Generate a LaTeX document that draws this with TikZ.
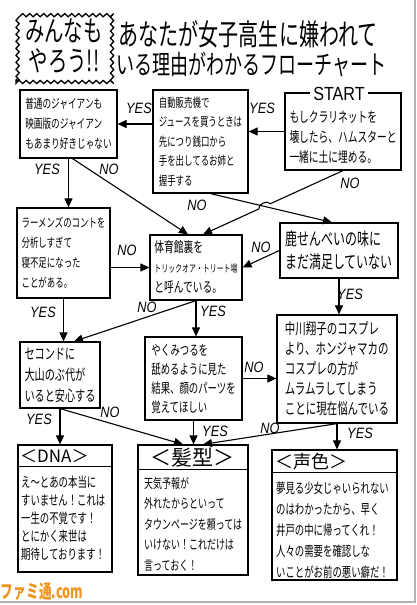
\documentclass[tikz,border=0pt]{standalone}
\usepackage{fontspec}
\setmainfont{Noto Sans CJK JP}
\newfontfamily\jp[FakeStretch=0.68]{Noto Sans CJK JP}
\newfontfamily\lab[FakeStretch=0.85]{Liberation Sans}
\usetikzlibrary{arrows.meta,calc,decorations.pathmorphing}
\definecolor{famiorange}{RGB}{240,150,30}
\tikzset{
  box/.style={draw, line width=1.2pt, inner sep=2pt, align=left},
  conn/.style={line width=1.1pt, -{Triangle[length=9pt,width=8pt]}},
  lbl/.style={font=\lab\itshape\fontsize{15}{15}\selectfont, inner sep=0pt},
  txt/.style={align=left, inner sep=0pt},
}
\begin{document}
\begin{tikzpicture}[x=1pt,y=-1pt]
\useasboundingbox (0,0) rectangle (417,605);
\fill[white] (0,0) rectangle (417,605);
\draw[gray!60, line width=1.5pt] (0,602) -- (415,602) -- (415,0);

% title
\node[draw, line width=1.3pt, decorate, decoration={snake,amplitude=1.6pt,segment length=7pt},
      minimum width=94pt, minimum height=72pt] (T0) at (64,46) {};
\node[align=center, font=\jp\fontsize{28.5}{30}\selectfont] (T1) at (64,46) {みんなも\\やろう!!};
\node[anchor=west, font=\jp\fontsize{29.5}{30}\selectfont] (T2) at (115,34) {あなたが女子高生に嫌われて};
\node[anchor=west, font=\jp\fontsize{26.5}{30}\selectfont] (T3) at (113,64) {いる理由がわかるフローチャート};

% question boxes
\node[box, minimum width=97pt, minimum height=68pt, font=\jp\fontsize{12.7}{20}\selectfont] (A) at (68.5,124)
  {普通のジャイアンも\\映画版のジャイアン\\もあまり好きじゃない};
\node[box, minimum width=95pt, minimum height=103pt, font=\jp\fontsize{12.4}{19.5}\selectfont] (B) at (200.5,141.5)
  {自動販売機で\\ジュースを買うときは\\先につり銭口から\\手を出してるお姉と\\握手する};
\node[box, minimum width=116pt, minimum height=77pt] (START) at (343,131.5) {};
\node[txt, font=\jp\fontsize{14.3}{20}\selectfont] (Stxt) at (343,137)
  {もしクラリネットを\\壊したら、ハムスターと\\一緒に土に埋める。};
\node[fill=white, inner xsep=3pt, inner ysep=0pt, font=\lab\fontsize{19}{19}\selectfont] (Slbl) at (339,94) {START};
\node[box, minimum width=93pt, minimum height=90pt, font=\jp\fontsize{12.4}{20}\selectfont] (C) at (63.5,253)
  {ラーメンズのコントを\\分析しすぎて\\寝不足になった\\ことがある。};
\node[box, minimum width=92pt, minimum height=65pt, font=\jp\fontsize{14.3}{20}\selectfont] (D) at (196,267.5)
  {体育館裏を\\{\fontsize{10.2}{20}\selectfont トリックオア・トリート場}\\と呼んでいる。};
\node[box, minimum width=118pt, minimum height=55pt, font=\jp\fontsize{17.6}{23}\selectfont] (E) at (339,250.5)
  {鹿せんべいの味に\\まだ満足していない};
\node[box, minimum width=80pt, minimum height=66pt, font=\jp\fontsize{14.9}{21}\selectfont] (F) at (60,375)
  {セコンドに\\大山のぶ代が\\いると安心する};
\node[box, minimum width=97pt, minimum height=83pt, font=\jp\fontsize{13.8}{19}\selectfont] (G) at (193.5,378.5)
  {やくみつるを\\舐めるように見た\\結果、顔のパーツを\\覚えてほしい};
\node[box, minimum width=120pt, minimum height=108pt, font=\jp\fontsize{15.4}{20}\selectfont] (H) at (337,369)
  {中川翔子のコスプレ\\より、ホンジャマカの\\コスプレの方が\\ムラムラしてしまう\\ことに現在悩んでいる};

% result boxes
\node[box, minimum width=94pt, minimum height=127pt] (N) at (65,508.5) {};
\node[anchor=west, inner sep=0pt, font=\fontsize{17}{17}\selectfont] (Nh) at (20,456) {＜DNA＞};
\draw[line width=1pt] ([yshift=-22pt]N.north west) -- ([yshift=-22pt]N.north east);
\node[txt, anchor=west, font=\jp\fontsize{13.8}{18}\selectfont] (Nb) at (21,518)
  {え～とあの本当に\\すいません！これは\\一生の不覚です！\\とにかく来世は\\期待しております！};

\node[box, minimum width=110pt, minimum height=130pt] (K) at (193,510) {};
\node[inner sep=0pt, font=\fontsize{21}{21}\selectfont] (Kh) at (192,458) {＜髪型＞};
\draw[line width=1pt] ([yshift=-25pt]K.north west) -- ([yshift=-25pt]K.north east);
\node[txt, anchor=west, font=\jp\fontsize{13.2}{20.5}\selectfont] (Kb) at (144,524)
  {天気予報が\\外れたからといって\\タウンページを頼っては\\いけない！これだけは\\言っておく！};

\node[box, minimum width=125pt, minimum height=130pt] (V) at (334.5,515) {};
\node[inner sep=0pt, font=\fontsize{18}{18}\selectfont] (Vh) at (311,462) {＜声色＞};
\draw[line width=1pt] ([yshift=-23pt]V.north west) -- ([yshift=-23pt]V.north east);
\node[txt, anchor=west, font=\jp\fontsize{13.8}{21}\selectfont] (Vb) at (276,530)
  {夢見る少女じゃいられない\\のはわかったから、早く\\井戸の中に帰ってくれ！\\人々の需要を確認しな\\いことがお前の悪い癖だ！};

% connectors
\coordinate (Dn1) at ([xshift=-8pt]D.north);
\coordinate (Dn2) at ([xshift=7pt]D.north);
\draw[conn] (START.west) -- (START.west -| B.east);
\draw[conn] (A.east -| B.west) -- (A.east);
\draw[conn] (A.south) -- (A.south |- C.north);
\draw[conn] ([xshift=4pt]A.south) -- (Dn1);
\draw[conn] ([xshift=10pt]B.south) -- ([xshift=-7pt]E.north);
\draw[conn] (START.south) -- ($(START.south)!0.52!(Dn2)$) to[bend right=90] ($(START.south)!0.60!(Dn2)$) -- (Dn2);
\draw[conn] (C.east |- D.west) -- (D.west);
\draw[conn] (E.west) -- (D.east);
\draw[conn] (E.south) -- (E.south |- H.north);
\draw[conn] (C.south) -- (C.south |- F.north);
\draw[conn] (D.south) -- ([xshift=14pt]F.north);
\draw[conn] (D.south) -- (D.south |- G.north);
\draw[conn] (G.east) -- (G.east -| H.west);
\draw[conn] (F.south) -- (F.south |- N.north);
\draw[conn] (F.south) -- ([xshift=-10pt]K.north);
\draw[conn] (G.south) -- (G.south |- K.north);
\draw[conn] (H.south) -- ([xshift=10pt]K.north);
\draw[conn] (H.south) -- (H.south |- V.north);

% labels
\node[lbl] (l1) at (262,108) {YES};
\node[lbl] (l2) at (139,108) {YES};
\node[lbl] (l3) at (47,169) {YES};
\node[lbl] (l4) at (109,169) {NO};
\node[lbl] (l5) at (197,205) {NO};
\node[lbl] (l6) at (350,183) {NO};
\node[lbl] (l7) at (127,250) {NO};
\node[lbl] (l8) at (261,247) {NO};
\node[lbl] (l9) at (350,294) {YES};
\node[lbl] (l10) at (43,312) {YES};
\node[lbl] (l11) at (147,307) {NO};
\node[lbl] (l12) at (213,311) {YES};
\node[lbl] (l13) at (254,367) {NO};
\node[lbl] (l14) at (39,419) {YES};
\node[lbl] (l15) at (110,412) {NO};
\node[lbl] (l16) at (215,431) {YES};
\node[lbl] (l17) at (270,428) {NO};
\node[lbl] (l18) at (360,433) {YES};

% watermark
\node[font=\jp\bfseries\fontsize{18.7}{18.7}\selectfont, text=famiorange] (W) at (42,592) {ファミ通.com};
\end{tikzpicture}
\end{document}
